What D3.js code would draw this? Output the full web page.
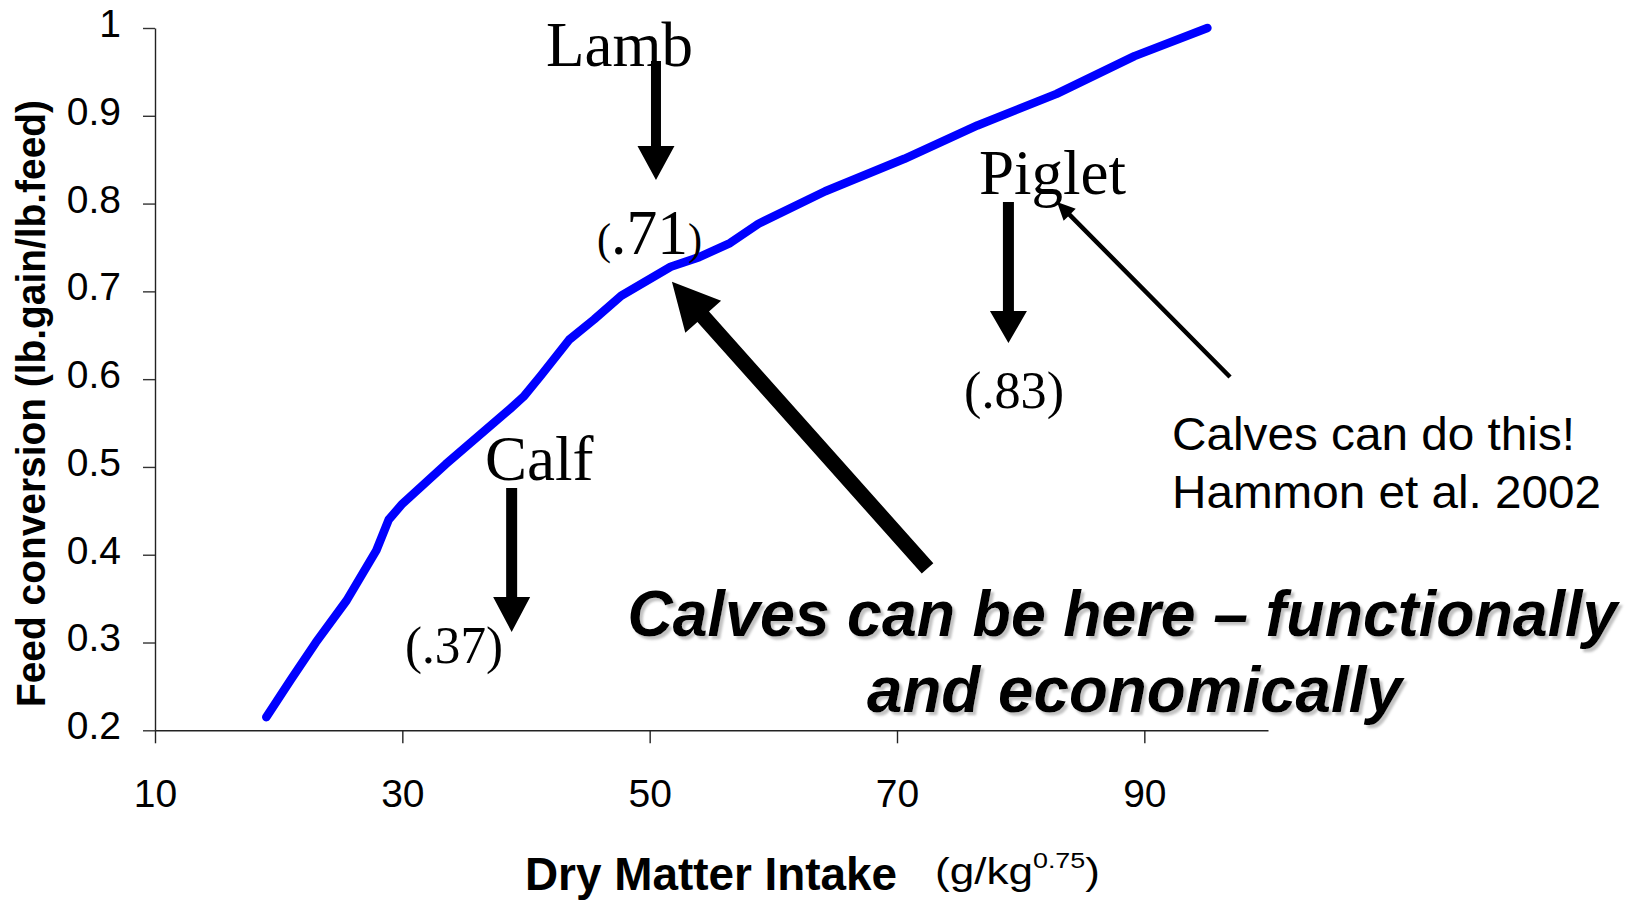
<!DOCTYPE html>
<html><head><meta charset="utf-8">
<script src="https://cdn.jsdelivr.net/npm/d3@7/dist/d3.min.js"></script>
<style>body{margin:0;background:#fff}svg{display:block}</style>
</head><body>
<svg id="c" width="1641" height="902"></svg>
<script>
// ---- data ----
const dmi = [19, 21, 23, 25.5, 27.9, 28.9, 30, 33.5, 38.7, 39.8, 41.2, 43.5, 45.5, 47.7, 51.7, 54, 56.5, 58.8, 64.2, 70.6, 76.5, 82.9, 89.2, 95.1];
const feedConversion = [0.215, 0.258, 0.3, 0.348, 0.405, 0.44, 0.458, 0.503, 0.566, 0.58, 0.604, 0.645, 0.668, 0.695, 0.728, 0.739, 0.755, 0.777, 0.814, 0.851, 0.889, 0.925, 0.968, 1.0];
const xTicks = [10, 30, 50, 70, 90];
const xTickLabels = ["10", "30", "50", "70", "90"];
const yTicks = [0.2, 0.3, 0.4, 0.5, 0.6, 0.7, 0.8, 0.9, 1.0];
const yTickLabels = ["0.2", "0.3", "0.4", "0.5", "0.6", "0.7", "0.8", "0.9", "1"];

// species annotations: name, value label, arrow x, arrow top/tip (data units)
const speciesNames = ["Lamb", "Calf", "Piglet"];
const speciesValues = ["(.71)", "(.37)", "(.83)"];
const arrowX = [50.51, 38.84, 79.01];
const arrowTop = [0.9624, 0.476, 0.8018];
const arrowTip = [0.8268, 0.312, 0.6412];
const nameX = [41.62, 36.68, 76.63];
const nameY = [0.9567, 0.4851, 0.8109];
const valueX = [45.74, 30.22, 75.42];
const valueY = [0.7425, 0.2767, 0.5671];

const svg = d3.select("#c");
const x = d3.scaleLinear().domain([10, 100]).range([155, 1268]);
const y = d3.scaleLinear().domain([0.2, 1]).range([730.3, 28]);

const SANS = "'Liberation Sans', Arial, Helvetica, sans-serif";
const SERIF = "'Liberation Serif', 'Times New Roman', Times, serif";

const defs = svg.append("defs");
const f = defs.append("filter").attr("id", "shadow").attr("x", "-3%").attr("y", "-20%").attr("width", "106%").attr("height", "150%");
f.append("feDropShadow").attr("dx", 3).attr("dy", 3).attr("stdDeviation", 1.2).attr("flood-color", "#999").attr("flood-opacity", 0.6);

// ---- axes ----
const yAxis = svg.append("g").attr("transform", `translate(${x(10)},0)`)
  .call(d3.axisLeft(y).tickValues(yTicks).tickFormat((d, i) => yTickLabels[i]).tickSize(12).tickSizeOuter(0));
yAxis.select(".domain").attr("stroke", "#222").attr("stroke-width", 1.4);
yAxis.selectAll(".tick line").attr("stroke", "#333").attr("stroke-width", 1.4);
yAxis.selectAll(".tick text").attr("font-family", SANS).attr("font-size", 39).attr("fill", "#000")
  .attr("x", -34).attr("y", -4);

const xAxis = svg.append("g").attr("transform", `translate(0,${y(0.2)})`)
  .call(d3.axisBottom(x).tickValues(xTicks).tickFormat((d, i) => xTickLabels[i]).tickSize(13).tickSizeOuter(0));
xAxis.select(".domain").attr("stroke", "#222").attr("stroke-width", 1.4);
xAxis.selectAll(".tick line").attr("stroke", "#222").attr("stroke-width", 1.4);
xAxis.selectAll(".tick text").attr("font-family", SANS).attr("font-size", 39).attr("fill", "#000")
  .attr("dy", 0).attr("y", 77);

// axis titles
svg.append("text").attr("transform", "translate(45,403.5) rotate(-90)")
  .attr("text-anchor", "middle").attr("font-family", SANS).attr("font-weight", "bold").attr("font-size", 40)
  .attr("textLength", 607).attr("lengthAdjust", "spacingAndGlyphs")
  .text("Feed conversion (lb.gain/lb.feed)");

svg.append("text").attr("x", 525).attr("y", 890)
  .attr("font-family", SANS).attr("font-weight", "bold").attr("font-size", 46)
  .attr("textLength", 372).attr("lengthAdjust", "spacingAndGlyphs")
  .text("Dry Matter Intake");

const unit = svg.append("text").attr("x", 935).attr("y", 884)
  .attr("font-family", SANS).attr("font-size", 36)
  .attr("textLength", 165).attr("lengthAdjust", "spacingAndGlyphs");
unit.append("tspan").text("(g/kg");
unit.append("tspan").attr("font-size", 22).attr("dy", -16).text("0.75");
unit.append("tspan").attr("dy", 16).text(")");

// ---- curve ----
const pts = dmi.map((d, i) => [d, feedConversion[i]]);
svg.append("path").datum(pts)
  .attr("d", d3.line().x(d => x(d[0])).y(d => y(d[1])))
  .attr("fill", "none").attr("stroke", "#0000FF").attr("stroke-width", 8.5)
  .attr("stroke-linejoin", "round").attr("stroke-linecap", "round");

// ---- arrows ----
function arrowPath(x1, y1, x2, y2, sw, hl, hw) {
  const dx = x2 - x1, dy = y2 - y1, L = Math.hypot(dx, dy);
  const ux = dx / L, uy = dy / L, px = -uy, py = ux;
  const bx = x2 - ux * hl, by = y2 - uy * hl;
  const p = [
    [x1 + px * sw / 2, y1 + py * sw / 2], [bx + px * sw / 2, by + py * sw / 2],
    [bx + px * hw, by + py * hw], [x2, y2], [bx - px * hw, by - py * hw],
    [bx - px * sw / 2, by - py * sw / 2], [x1 - px * sw / 2, y1 - py * sw / 2]];
  return "M" + p.map(q => q.join(",")).join("L") + "Z";
}

const shaftW = [10, 11, 11], headL = [34, 35, 32];
speciesNames.forEach((n, i) => {
  svg.append("path").attr("d", arrowPath(x(arrowX[i]), y(arrowTop[i]), x(arrowX[i]), y(arrowTip[i]), shaftW[i], headL[i], 18.5))
    .attr("fill", "#000");
  svg.append("text").attr("x", x(nameX[i])).attr("y", y(nameY[i]))
    .attr("font-family", SERIF).attr("font-size", 63).text(n);
});

// value labels; (.71) has small parentheses
const v71 = svg.append("text").attr("x", x(valueX[0])).attr("y", y(valueY[0]))
  .attr("font-family", SERIF).attr("font-size", 44).attr("textLength", 105).attr("lengthAdjust", "spacingAndGlyphs");
v71.append("tspan").text("(");
v71.append("tspan").attr("font-size", 64).text(speciesValues[0].slice(1, 4));
v71.append("tspan").text(")");
[1, 2].forEach(i => {
  svg.append("text").attr("x", x(valueX[i])).attr("y", y(valueY[i]))
    .attr("font-family", SERIF).attr("font-size", 52)
    .attr("textLength", i === 1 ? 98 : 100).attr("lengthAdjust", "spacingAndGlyphs")
    .text(speciesValues[i]);
});

// big arrow toward the curve
svg.append("path").attr("d", arrowPath(x(72.47), y(0.3845), x(51.8), y(0.711), 15.5, 47, 24)).attr("fill", "#000");
// thin arrow toward Piglet
svg.append("path").attr("d", arrowPath(x(96.93), y(0.6024), x(82.94), y(0.8018), 4.5, 18, 8.5)).attr("fill", "#000");

// note text
svg.append("text").attr("x", x(92.24)).attr("y", y(0.5193))
  .attr("font-family", SANS).attr("font-size", 47).attr("textLength", 403).attr("lengthAdjust", "spacingAndGlyphs")
  .text("Calves can do this!");
svg.append("text").attr("x", x(92.24)).attr("y", y(0.4532))
  .attr("font-family", SANS).attr("font-size", 47).attr("textLength", 429).attr("lengthAdjust", "spacingAndGlyphs")
  .text("Hammon et al. 2002");

// big italic message (slightly tall, narrow lettering)
const msgLines = ["Calves can be here \u2013 functionally", "and economically"];
const msgX = [48.2, 67.57], msgY = [0.3074, 0.2208], msgLen = [990, 535];
msgLines.forEach((t, i) => {
  svg.append("g").attr("transform", `translate(${x(msgX[i])},${y(msgY[i])}) scale(1,1.07)`)
    .append("text").attr("x", 0).attr("y", 0)
    .attr("font-family", SANS).attr("font-weight", "bold").attr("font-style", "italic").attr("font-size", 61)
    .attr("textLength", msgLen[i]).attr("lengthAdjust", "spacingAndGlyphs")
    .attr("filter", "url(#shadow)")
    .text(t);
});
</script>
</body></html>
